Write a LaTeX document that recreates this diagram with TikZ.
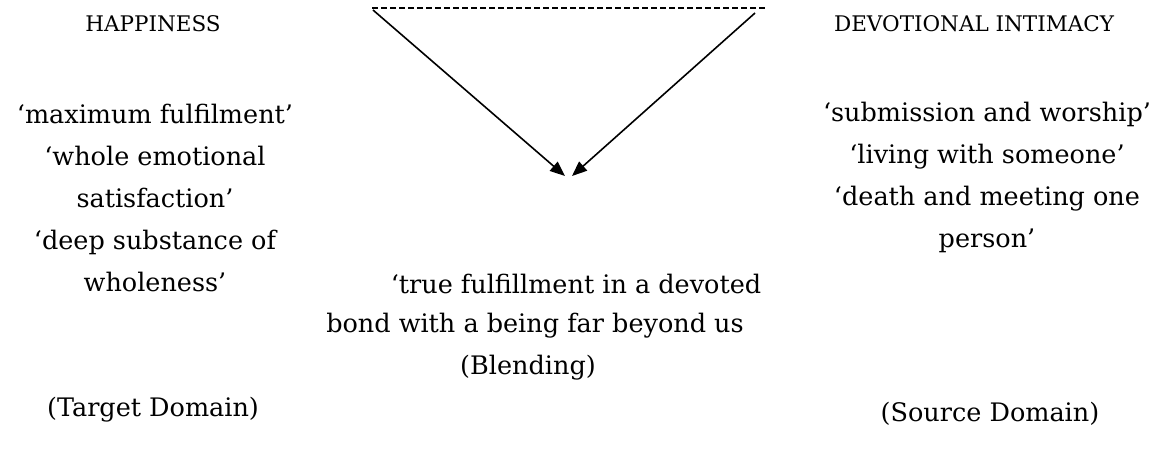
\documentclass[tikz,border=0pt]{standalone}
\usepackage{fontspec}
\setmainfont{DejaVu Serif}
\usetikzlibrary{arrows.meta}
\tikzset{
  body/.style={font=\fontsize{25.5}{42}\selectfont, align=center, inner sep=0pt, anchor=center},
  head/.style={font=\fontsize{21.5}{24}\selectfont, inner sep=0pt, anchor=center},
  conn/.style={line width=1.6pt, -{Triangle[length=15pt,width=12pt]}},
  dash line/.style={line width=1.4pt, dash pattern=on 6pt off 3pt}
}
\begin{document}
\begin{tikzpicture}[x=1pt,y=-1pt]
\useasboundingbox (0,0) rectangle (1173,448);
\node[head] (hap) at (153,24) {HAPPINESS};
\node[head] (dev) at (974,24) {DEVOTIONAL INTIMACY};
\node[body] (left) at (155,198) {‘maximum fulfilment’\\‘whole emotional\\satisfaction’\\‘deep substance of\\wholeness’};
\node[body] (right) at (987,177) {‘submission and worship’\\‘living with someone’\\‘death and meeting one\\person’};
\node[body] (c1) at (576,284) {‘true fulfillment in a devoted};
\node[body] (c2) at (535,326) {bond with a being far beyond us};
\node[body] (c3) at (528,368) {(Blending)};
\node[body] (target) at (153,410) {(Target Domain)};
\node[body] (source) at (990,414) {(Source Domain)};
\coordinate (tl) at (372,8);
\coordinate (tr) at (765,8);
\coordinate (ls) at (373,10);
\coordinate (rs) at (755,13);
\coordinate (lt) at (565,176);
\coordinate (rt) at (572,176);
\draw[dash line] (tl) -- (tr);
\draw[conn] (ls) -- (lt);
\draw[conn] (rs) -- (rt);
\end{tikzpicture}
\end{document}
